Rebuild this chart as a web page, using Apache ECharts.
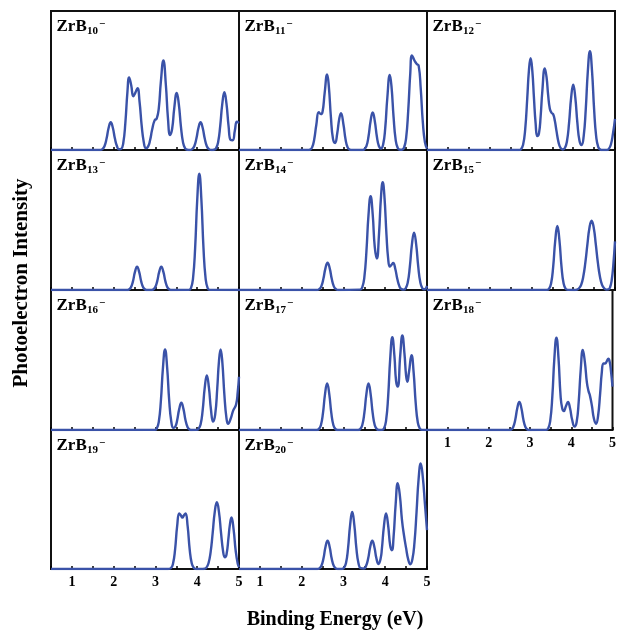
<!DOCTYPE html>
<html><head><meta charset="utf-8">
<script src="https://cdn.jsdelivr.net/npm/echarts@6.0.0/dist/echarts.min.js"></script>
<style>html,body{margin:0;padding:0;background:#fff}#chart{width:619px;height:635px}</style>
</head><body><div id="chart"></div>
<script>
// Cluster sizes n of ZrBn− (panel order: row by row)
const clusterSizes = ['10','11','12','13','14','15','16','17','18','19','20'];
// Integer tick labels of binding energy (eV)
const xTickLabels = [1, 2, 3, 4, 5];

// Spectra: [binding energy (eV), relative intensity]
const zrb10 = [[0.5,0],[1.68,0],[1.73,0.006],[1.78,0.027],[1.83,0.082],[1.88,0.16],[1.93,0.2],[1.98,0.16],[2.03,0.082],[2.08,0.027],[2.13,0.005],[2.18,0.008],[2.23,0.05],[2.28,0.196],[2.33,0.42],[2.37,0.522],[2.42,0.466],[2.47,0.387],[2.52,0.413],[2.57,0.445],[2.62,0.346],[2.67,0.177],[2.72,0.058],[2.77,0.014],[2.82,0.023],[2.87,0.068],[2.92,0.145],[2.98,0.213],[3.03,0.226],[3.08,0.30],[3.13,0.492],[3.19,0.644],[3.25,0.466],[3.30,0.226],[3.35,0.108],[3.40,0.153],[3.45,0.30],[3.51,0.41],[3.56,0.328],[3.61,0.169],[3.66,0.055],[3.71,0.012],[3.76,0.002],[3.83,0],[3.88,0.006],[3.93,0.027],[3.98,0.082],[4.03,0.16],[4.08,0.2],[4.13,0.16],[4.18,0.082],[4.23,0.027],[4.28,0.006],[4.34,0],[4.40,0.002],[4.45,0.012],[4.50,0.056],[4.55,0.171],[4.60,0.332],[4.65,0.415],[4.70,0.333],[4.75,0.174],[4.80,0.072],[4.85,0.07],[4.90,0.138],[4.95,0.203],[5.0,0.194]];
const zrb11 = [[0.5,0],[2.15,0],[2.20,0.003],[2.25,0.019],[2.30,0.076],[2.35,0.18],[2.41,0.272],[2.46,0.258],[2.50,0.275],[2.55,0.409],[2.61,0.544],[2.65,0.458],[2.70,0.236],[2.75,0.08],[2.80,0.05],[2.85,0.117],[2.90,0.225],[2.94,0.265],[3.00,0.184],[3.05,0.077],[3.10,0.019],[3.15,0.003],[3.20,0],[3.45,0],[3.50,0.005],[3.55,0.027],[3.60,0.097],[3.65,0.209],[3.70,0.27],[3.75,0.209],[3.80,0.097],[3.85,0.027],[3.90,0.011],[3.95,0.039],[4.00,0.157],[4.05,0.374],[4.11,0.54],[4.15,0.458],[4.20,0.236],[4.25,0.073],[4.30,0.014],[4.35,0.002],[4.40,0.002],[4.45,0.016],[4.50,0.086],[4.55,0.28],[4.60,0.553],[4.64,0.681],[4.70,0.644],[4.75,0.62],[4.80,0.607],[4.85,0.441],[4.90,0.2],[4.95,0.057],[5.0,0.01]];
const zrb12 = [[0.5,0],[2.70,0],[2.75,0.006],[2.80,0.037],[2.85,0.147],[2.90,0.374],[2.94,0.573],[2.98,0.66],[3.02,0.573],[3.06,0.375],[3.10,0.191],[3.14,0.10],[3.18,0.12],[3.22,0.241],[3.26,0.421],[3.32,0.587],[3.36,0.528],[3.40,0.395],[3.44,0.297],[3.48,0.268],[3.52,0.257],[3.56,0.21],[3.60,0.136],[3.65,0.053],[3.70,0.013],[3.75,0.004],[3.80,0.014],[3.85,0.063],[3.90,0.193],[3.95,0.376],[4.00,0.47],[4.05,0.376],[4.10,0.193],[4.15,0.066],[4.20,0.035],[4.25,0.098],[4.30,0.292],[4.35,0.568],[4.40,0.71],[4.45,0.568],[4.50,0.292],[4.55,0.096],[4.60,0.021],[4.65,0.003],[4.70,0],[4.80,0],[4.85,0.008],[4.90,0.038],[4.95,0.115],[5.0,0.224]];
const zrb13 = [[0.5,0],[2.31,0],[2.36,0.003],[2.41,0.017],[2.46,0.06],[2.51,0.129],[2.56,0.167],[2.61,0.129],[2.66,0.06],[2.71,0.017],[2.76,0.003],[2.81,0],[2.89,0],[2.94,0.003],[2.99,0.017],[3.04,0.06],[3.09,0.129],[3.14,0.167],[3.19,0.129],[3.24,0.06],[3.29,0.017],[3.34,0.003],[3.39,0],[3.80,0.001],[3.85,0.014],[3.90,0.084],[3.95,0.299],[4.00,0.643],[4.05,0.83],[4.10,0.643],[4.15,0.299],[4.20,0.084],[4.25,0.014],[4.30,0.001],[5.0,0]];
const zrb14 = [[0.5,0],[2.37,0],[2.42,0.006],[2.47,0.026],[2.52,0.08],[2.57,0.156],[2.62,0.195],[2.67,0.156],[2.72,0.08],[2.77,0.026],[2.82,0.006],[2.87,0],[3.40,0.003],[3.45,0.019],[3.50,0.09],[3.55,0.275],[3.60,0.536],[3.65,0.67],[3.70,0.541],[3.75,0.306],[3.80,0.225],[3.85,0.394],[3.90,0.671],[3.94,0.77],[3.98,0.672],[4.03,0.395],[4.07,0.225],[4.11,0.167],[4.15,0.18],[4.19,0.193],[4.24,0.152],[4.29,0.078],[4.34,0.026],[4.39,0.006],[4.44,0.003],[4.49,0.012],[4.54,0.055],[4.59,0.168],[4.64,0.328],[4.69,0.41],[4.74,0.328],[4.79,0.168],[4.84,0.055],[4.89,0.012],[4.94,0.005],[5.0,0.03]];
const zrb15 = [[0.5,0],[3.37,0.001],[3.42,0.008],[3.47,0.046],[3.52,0.165],[3.57,0.354],[3.62,0.457],[3.67,0.354],[3.72,0.165],[3.77,0.046],[3.82,0.008],[3.87,0.001],[4.04,0],[4.09,0.003],[4.14,0.012],[4.19,0.037],[4.24,0.095],[4.29,0.195],[4.34,0.327],[4.39,0.447],[4.44,0.495],[4.49,0.447],[4.54,0.327],[4.59,0.195],[4.64,0.095],[4.69,0.037],[4.74,0.012],[4.79,0.003],[4.84,0.004],[4.88,0.018],[4.92,0.068],[4.96,0.18],[5.0,0.347]];
const zrb16 = [[0.5,0],[2.98,0.001],[3.03,0.01],[3.08,0.058],[3.13,0.207],[3.18,0.446],[3.23,0.576],[3.28,0.446],[3.33,0.207],[3.38,0.059],[3.43,0.015],[3.48,0.027],[3.52,0.07],[3.57,0.151],[3.62,0.195],[3.67,0.151],[3.72,0.07],[3.77,0.02],[3.82,0.003],[3.87,0],[3.98,0.001],[4.03,0.007],[4.08,0.039],[4.13,0.14],[4.18,0.302],[4.23,0.39],[4.28,0.302],[4.33,0.143],[4.38,0.06],[4.43,0.11],[4.48,0.30],[4.52,0.489],[4.56,0.576],[4.60,0.489],[4.65,0.252],[4.70,0.085],[4.74,0.044],[4.80,0.08],[4.86,0.138],[4.93,0.182],[4.97,0.272],[5.0,0.38]];
const zrb17 = [[0.5,0],[2.36,0],[2.41,0.006],[2.46,0.034],[2.51,0.12],[2.56,0.258],[2.61,0.333],[2.66,0.258],[2.71,0.12],[2.76,0.034],[2.81,0.006],[2.86,0],[3.35,0],[3.40,0.006],[3.45,0.034],[3.50,0.12],[3.55,0.258],[3.60,0.333],[3.65,0.258],[3.70,0.12],[3.75,0.034],[3.80,0.006],[3.85,0],[3.92,0.001],[3.97,0.011],[4.02,0.067],[4.07,0.238],[4.12,0.512],[4.17,0.662],[4.22,0.529],[4.26,0.35],[4.30,0.31],[4.36,0.536],[4.41,0.676],[4.46,0.547],[4.50,0.387],[4.53,0.345],[4.57,0.416],[4.63,0.535],[4.68,0.411],[4.73,0.191],[4.78,0.054],[4.83,0.009],[4.88,0.001],[5.0,0]];
const zrb18 = [[0.5,0],[2.49,0],[2.54,0.003],[2.59,0.02],[2.64,0.072],[2.69,0.155],[2.74,0.20],[2.79,0.155],[2.84,0.072],[2.89,0.02],[2.94,0.003],[2.99,0],[3.39,0.001],[3.44,0.011],[3.49,0.067],[3.54,0.238],[3.59,0.512],[3.64,0.66],[3.69,0.513],[3.74,0.245],[3.78,0.155],[3.82,0.135],[3.87,0.17],[3.92,0.20],[3.97,0.155],[4.02,0.075],[4.08,0.025],[4.13,0.057],[4.18,0.202],[4.23,0.434],[4.28,0.571],[4.33,0.485],[4.38,0.336],[4.42,0.276],[4.45,0.249],[4.50,0.174],[4.55,0.08],[4.60,0.045],[4.65,0.10],[4.70,0.26],[4.74,0.41],[4.78,0.476],[4.82,0.475],[4.86,0.49],[4.90,0.51],[4.93,0.49],[4.96,0.43],[5.0,0.31]];
const zrb19 = [[0.5,0],[3.30,0],[3.37,0.006],[3.42,0.038],[3.47,0.14],[3.52,0.31],[3.57,0.40],[3.61,0.385],[3.645,0.37],[3.68,0.385],[3.72,0.40],[3.77,0.31],[3.82,0.14],[3.87,0.04],[3.92,0.007],[3.97,0],[4.12,0],[4.17,0.002],[4.22,0.01],[4.27,0.041],[4.32,0.12],[4.37,0.259],[4.42,0.411],[4.47,0.48],[4.52,0.411],[4.57,0.26],[4.62,0.126],[4.66,0.085],[4.70,0.103],[4.75,0.229],[4.78,0.314],[4.82,0.37],[4.87,0.287],[4.92,0.133],[4.97,0.037],[5.0,0.014]];
const zrb20 = [[0.5,0],[2.37,0],[2.42,0.004],[2.47,0.021],[2.52,0.073],[2.57,0.158],[2.62,0.204],[2.67,0.158],[2.72,0.073],[2.77,0.021],[2.82,0.004],[2.87,0],[2.96,0],[3.01,0.007],[3.06,0.041],[3.11,0.148],[3.16,0.318],[3.21,0.41],[3.26,0.318],[3.31,0.148],[3.36,0.041],[3.41,0.007],[3.49,0.004],[3.54,0.021],[3.59,0.073],[3.64,0.158],[3.69,0.204],[3.74,0.158],[3.79,0.075],[3.84,0.036],[3.89,0.075],[3.92,0.145],[3.97,0.31],[4.02,0.40],[4.07,0.313],[4.12,0.166],[4.16,0.135],[4.20,0.231],[4.25,0.467],[4.30,0.618],[4.35,0.53],[4.40,0.356],[4.45,0.241],[4.50,0.15],[4.55,0.069],[4.60,0.034],[4.65,0.07],[4.70,0.189],[4.75,0.41],[4.80,0.651],[4.85,0.76],[4.90,0.66],[4.95,0.47],[5.0,0.28]];

const spectra = [zrb10, zrb11, zrb12, zrb13, zrb14, zrb15, zrb16, zrb17, zrb18, zrb19, zrb20];

const SERIF = "'Liberation Serif','Times New Roman',serif";
const LINE_COLOR = '#3a52a8';
const colLeft = [51, 239, 427];
const colWidth = [188, 188, 188];
const rowTop = [11, 150, 290, 430];
const rowHeight = [139, 140, 140, 139];

const FONT_MAIN = "bold 17px 'Liberation Serif'";
const FONT_SUB = "bold 11px 'Liberation Serif'";
const FONT_SUP = "bold 11px 'Liberation Serif'";
const measureCtx = document.createElement('canvas').getContext('2d');
function textWidth(str, font) { measureCtx.font = font; return measureCtx.measureText(str).width; }

const grids = [], xAxes = [], yAxes = [], series = [], labelGraphics = [];
spectra.forEach((data, i) => {
  const r = Math.floor(i / 3), c = i % 3;
  const labeled = r === 3 || (r === 2 && c === 2);
  grids.push({
    left: colLeft[c], top: rowTop[r], width: colWidth[c], height: rowHeight[r],
    show: true, borderColor: '#111', borderWidth: 2, backgroundColor: 'rgba(0,0,0,0)'
  });
  xAxes.push({
    gridIndex: i, type: 'value', min: 0.5, max: 5, interval: 0.5,
    axisLine: { show: false },
    splitLine: { show: false },
    axisTick: { show: true, inside: true, length: 3, lineStyle: { color: '#000', width: 1.5 } },
    axisLabel: {
      show: labeled, showMinLabel: true, showMaxLabel: true, margin: 6,
      color: '#000', fontFamily: SERIF, fontWeight: 'bold', fontSize: 14,
      formatter: v => (xTickLabels.indexOf(v) >= 0 ? String(v) : '')
    }
  });
  yAxes.push({ gridIndex: i, type: 'value', min: 0, max: 1, show: false });
  series.push({
    type: 'line', xAxisIndex: i, yAxisIndex: i, data: data,
    smooth: 0.5, showSymbol: false, symbol: 'none', silent: true,
    lineStyle: { color: LINE_COLOR, width: 2.4 }
  });
  // panel label ZrB_n^−
  const x0 = colLeft[c] + 5.5, t = rowTop[r];
  const wMain = textWidth('ZrB', FONT_MAIN);
  const wSub = textWidth(clusterSizes[i], FONT_SUB);
  labelGraphics.push(
    { type: 'text', x: x0, y: t + 15.3, silent: true, z: 10,
      style: { text: 'ZrB', font: FONT_MAIN, fill: '#000', align: 'left', verticalAlign: 'middle' } },
    { type: 'text', x: x0 + wMain + 0.3, y: t + 20.3, silent: true, z: 10,
      style: { text: clusterSizes[i], font: FONT_SUB, fill: '#000', align: 'left', verticalAlign: 'middle' } },
    { type: 'text', x: x0 + wMain + wSub + 1.2, y: t + 13.2, silent: true, z: 10,
      style: { text: '\u2212', font: FONT_SUP, fill: '#000', align: 'left', verticalAlign: 'middle' } }
  );
});

const chart = echarts.init(document.getElementById('chart'), null, { renderer: 'canvas' });
chart.setOption({
  animation: false,
  backgroundColor: '#fff',
  grid: grids,
  xAxis: xAxes,
  yAxis: yAxes,
  series: series,
  graphic: labelGraphics.concat([
    { type: 'text', x: 335, y: 620, silent: true,
      style: { text: 'Binding Energy (eV)', font: "bold 20px 'Liberation Serif'", fill: '#000', align: 'center', verticalAlign: 'middle' } },
    { type: 'text', x: 22, y: 283, rotation: Math.PI / 2, silent: true,
      style: { text: 'Photoelectron Intensity', font: "bold 21px 'Liberation Serif'", fill: '#000', align: 'center', verticalAlign: 'middle' } }
  ])
});
</script></body></html>
